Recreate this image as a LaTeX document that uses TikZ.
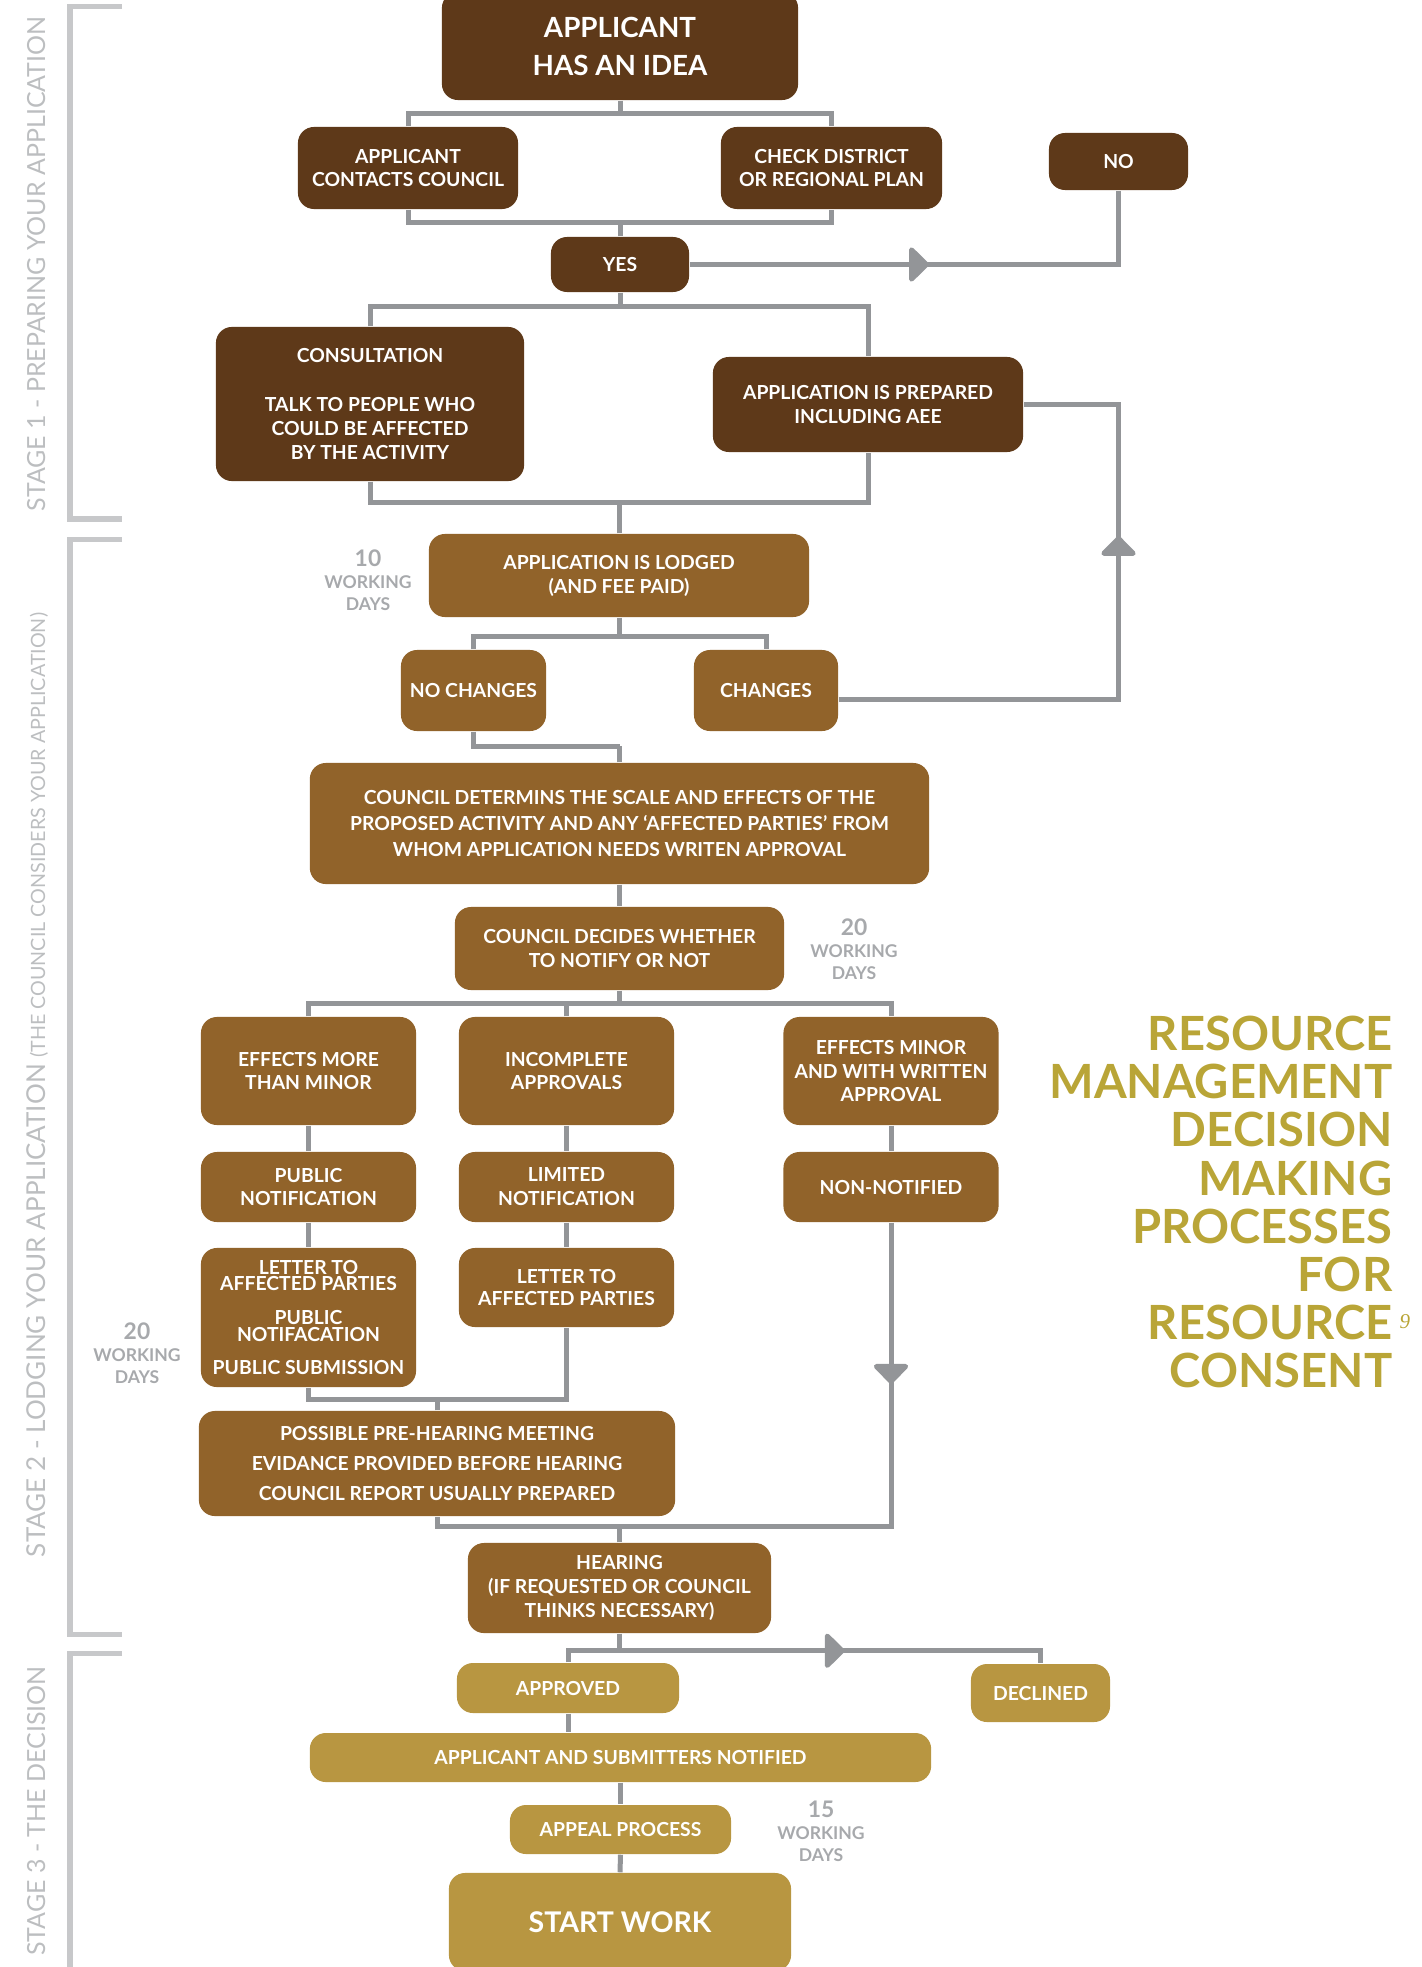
\documentclass[tikz,border=0pt]{standalone}
\usepackage{fontspec}
\setmainfont{Lato}
\newfontfamily\notefont{Liberation Serif}
\usetikzlibrary{arrows.meta,decorations.markings}

\definecolor{darkbrown}{HTML}{5E3919}
\definecolor{midbrown}{HTML}{91632A}
\definecolor{goldfill}{HTML}{B89641}
\definecolor{linegray}{HTML}{939598}
\definecolor{stagegray}{HTML}{C7C8CA}
\definecolor{stagetext}{HTML}{BCBEC0}
\definecolor{daysgray}{HTML}{A7A9AC}
\definecolor{titlegold}{HTML}{B9A537}

\tikzset{
    box/.style={rounded corners=0.16cm, text=white, align=center, inner sep=0pt,
        font=\fontsize{5.5}{6.8}\selectfont\bfseries},
    darkbox/.style={box, fill=darkbrown},
    midbox/.style={box, fill=midbrown},
    goldbox/.style={box, fill=goldfill},
    wh/.style 2 args={minimum width=#1cm, minimum height=#2cm},
    link/.style={draw=linegray, color=linegray, line width=0.05cm},
    bracket/.style={draw=stagegray, line width=0.05cm},
    flowtip/.style={postaction={decorate}, decoration={markings,
        mark=at position #1 with {\arrow{Triangle[width=0.4cm,length=0.21cm,round]}}}},
    days/.style={text=daysgray, align=center, inner sep=0pt,
        font=\fontsize{5.0}{6.2}\selectfont\bfseries},
    stagelabel/.style={text=stagetext, rotate=90, anchor=base, inner sep=0pt,
        font=\fontsize{7.1}{8}\selectfont},
}

\begin{document}
\begin{tikzpicture}[x=0.01cm, y=-0.01cm]
    \useasboundingbox (0,0) rectangle (1421,1967);

    % stage brackets and labels
    \foreach \ya/\yb in {7/519, 539/1634} {
        \draw[bracket] (122,\ya) -- (70,\ya) -- (70,\yb) -- (122,\yb);
    }
    \draw[bracket] (122,1653) -- (70,1653) -- (70,1990);
    \node[stagelabel] (st1) at (45,264) {STAGE 1 - PREPARING YOUR APPLICATION};
    \node[stagelabel, font=\fontsize{7.4}{8}\selectfont] (st2) at (45,1085) {STAGE 2 - LODGING YOUR APPLICATION
        {\fontsize{5.6}{6}\selectfont (THE COUNCIL CONSIDERS YOUR APPLICATION)}};
    \node[stagelabel] (st3) at (45,1811) {STAGE 3 - THE DECISION};

    % stage 1
    \node[darkbox, wh={3.56}{1.08}, font=\fontsize{7.9}{10.8}\selectfont\bfseries] (idea) at (620,46)
        {APPLICANT\\HAS AN IDEA};
    \node[darkbox, wh={2.20}{0.82}] (contact) at (408,168) {APPLICANT\\CONTACTS COUNCIL};
    \node[darkbox, wh={2.21}{0.82}] (check) at (831.5,168) {CHECK DISTRICT\\OR REGIONAL PLAN};
    \node[darkbox, wh={1.39}{0.57}] (no) at (1118.5,161.5) {NO};
    \node[darkbox, wh={1.38}{0.55}] (yes) at (620,264.5) {YES};
    \node[darkbox, wh={3.08}{1.54}] (consult) at (370,404)
        {CONSULTATION\\[0.25cm]TALK TO PEOPLE WHO\\COULD BE AFFECTED\\BY THE ACTIVITY};
    \node[darkbox, wh={3.10}{0.95}] (prep) at (868,404.5) {APPLICATION IS PREPARED\\INCLUDING AEE};

    % stage 2
    \node[midbox, wh={3.80}{0.83}] (lodged) at (619,575.5) {APPLICATION IS LODGED\\(AND FEE PAID)};
    \node[days] (wd10) at (368,580) {{\fontsize{6.5}{7}\selectfont 10}\\WORKING\\DAYS};
    \node[midbox, wh={1.45}{0.81}] (nochg) at (473.5,690.5) {NO CHANGES};
    \node[midbox, wh={1.44}{0.81}] (chg) at (766,690.5) {CHANGES};
    \node[midbox, wh={6.19}{1.21}, font=\fontsize{5.5}{7.5}\selectfont\bfseries] (determ) at (619.5,823.5)
        {COUNCIL DETERMINS THE SCALE AND EFFECTS OF THE\\PROPOSED ACTIVITY AND ANY ‘AFFECTED PARTIES’ FROM\\WHOM APPLICATION NEEDS WRITEN APPROVAL};
    \node[midbox, wh={3.29}{0.83}] (decides) at (619.5,948.5) {COUNCIL DECIDES WHETHER\\TO NOTIFY OR NOT};
    \node[days] (wd20a) at (854,949) {{\fontsize{6.5}{7}\selectfont 20}\\WORKING\\DAYS};
    \node[midbox, wh={2.15}{1.08}] (emore) at (308.5,1071) {EFFECTS MORE\\THAN MINOR};
    \node[midbox, wh={2.15}{1.08}] (incompl) at (566.5,1071) {INCOMPLETE\\APPROVALS};
    \node[midbox, wh={2.15}{1.08}] (eminor) at (891,1071) {EFFECTS MINOR\\AND WITH WRITTEN\\APPROVAL};
    \node[midbox, wh={2.15}{0.70}] (pubnot) at (308.5,1187) {PUBLIC\\NOTIFICATION};
    \node[midbox, wh={2.15}{0.70}] (limnot) at (566.5,1187) {LIMITED\\NOTIFICATION};
    \node[midbox, wh={2.15}{0.70}] (nonnot) at (891,1187) {NON-NOTIFIED};
    \node[midbox, wh={2.15}{1.39}, font=\fontsize{5.5}{4.7}\selectfont\bfseries] (letpub) at (308.5,1317.5)
        {LETTER TO\\AFFECTED PARTIES\\[0.17cm]PUBLIC\\NOTIFACATION\\[0.17cm]PUBLIC SUBMISSION};
    \node[midbox, wh={2.15}{0.79}, font=\fontsize{5.5}{6.2}\selectfont\bfseries] (letlim) at (566.5,1287.5)
        {LETTER TO\\AFFECTED PARTIES};
    \node[days] (wd20b) at (137,1353) {{\fontsize{6.5}{7}\selectfont 20}\\WORKING\\DAYS};
    \node[midbox, wh={4.76}{1.05}, font=\fontsize{5.5}{8.4}\selectfont\bfseries] (prehear) at (437,1463.5)
        {POSSIBLE PRE-HEARING MEETING\\EVIDANCE PROVIDED BEFORE HEARING\\COUNCIL REPORT USUALLY PREPARED};
    \node[midbox, wh={3.03}{0.90}] (hearing) at (619.5,1588)
        {HEARING\\(IF REQUESTED OR COUNCIL\\THINKS NECESSARY)};

    % stage 3
    \node[goldbox, wh={2.22}{0.50}] (approved) at (568,1688) {APPROVED};
    \node[goldbox, wh={1.39}{0.58}] (declined) at (1040.5,1693) {DECLINED};
    \node[goldbox, wh={6.21}{0.49}] (notified) at (620.5,1757.5) {APPLICANT AND SUBMITTERS NOTIFIED};
    \node[goldbox, wh={2.21}{0.49}] (appeal) at (620.5,1829.5) {APPEAL PROCESS};
    \node[days] (wd15) at (821,1831) {{\fontsize{6.5}{7}\selectfont 15}\\WORKING\\DAYS};
    \node[goldbox, wh={3.42}{0.98}, font=\fontsize{8.1}{9}\selectfont\bfseries] (start) at (620,1922) {START WORK};

    % title
    \node[text=titlegold, align=right, anchor=east, inner sep=0pt,
        font=\fontsize{13.4}{13.66}\selectfont\bfseries] (title) at (1393,1202)
        {RESOURCE\\MANAGEMENT\\DECISION\\MAKING\\PROCESSES\\FOR\\RESOURCE\\CONSENT};
    \node[text=titlegold, inner sep=0pt, font=\notefont\itshape\fontsize{6}{7}\selectfont] (fn) at (1405,1322) {9};

    % connectors
    \draw[link] (idea.south) -- ++(0,13) coordinate (s1);
    \draw[link] (contact.north) |- (s1) -| (check.north);
    \draw[link] (yes.north) -- ++(0,-14) coordinate (s2);
    \draw[link] (contact.south) |- (s2) -| (check.south);
    \draw[link, flowtip=2.39cm] (yes.east) -| (no.south);
    \draw[link] (yes.south) -- ++(0,14) coordinate (s3);
    \draw[link] (consult.north) |- (s3) -| (prep.north);
    \draw[link] (lodged.north) -- ++(0,-31) coordinate (s4);
    \draw[link] (consult.south) |- (s4) -| (prep.south);

    \draw[link] (lodged.south) -- ++(0,19) coordinate (s5);
    \draw[link] (nochg.north) |- (s5) -| (chg.north);
    \draw[link, flowtip=4.43cm] ([yshift=-0.09cm]chg.east) -| (no.south |- prep.east) -- (prep.east);
    \draw[link] (determ.north) -- ++(0,-16) coordinate (s6);
    \draw[link] (nochg.south) |- (s6);
    \draw[link] (determ.south) -- (decides.north);
    \draw[link] (decides.south) -- ++(0,13) coordinate (s7);
    \draw[link] (emore.north) |- (s7) -| (eminor.north);
    \draw[link] (incompl.north) -- (incompl.north |- s7);
    \draw[link] (emore.south) -- (pubnot.north);
    \draw[link] (pubnot.south) -- (letpub.north);
    \draw[link] (incompl.south) -- (limnot.north);
    \draw[link] (limnot.south) -- (letlim.north);
    \draw[link] (eminor.south) -- (nonnot.north);
    \draw[link] (prehear.north) -- ++(0,-11) coordinate (s8);
    \draw[link] (letpub.south) |- (s8) -| (letlim.south);
    \draw[link] (hearing.north) -- ++(0,-16) coordinate (s9);
    \draw[link, flowtip=1.61cm] (nonnot.south) |- (s9) -| (prehear.south);

    \draw[link] (hearing.south) -- ++(0,17) coordinate (s10);
    \draw[link] (approved.north) |- (s10);
    \draw[link, flowtip=2.25cm] (s10) -| (declined.north);
    \draw[link] (approved.south) -- (approved.south |- notified.north);
    \draw[link] (notified.south) -- (appeal.north);
    \draw[link] (appeal.south) -- (start.north);
\end{tikzpicture}
\end{document}
